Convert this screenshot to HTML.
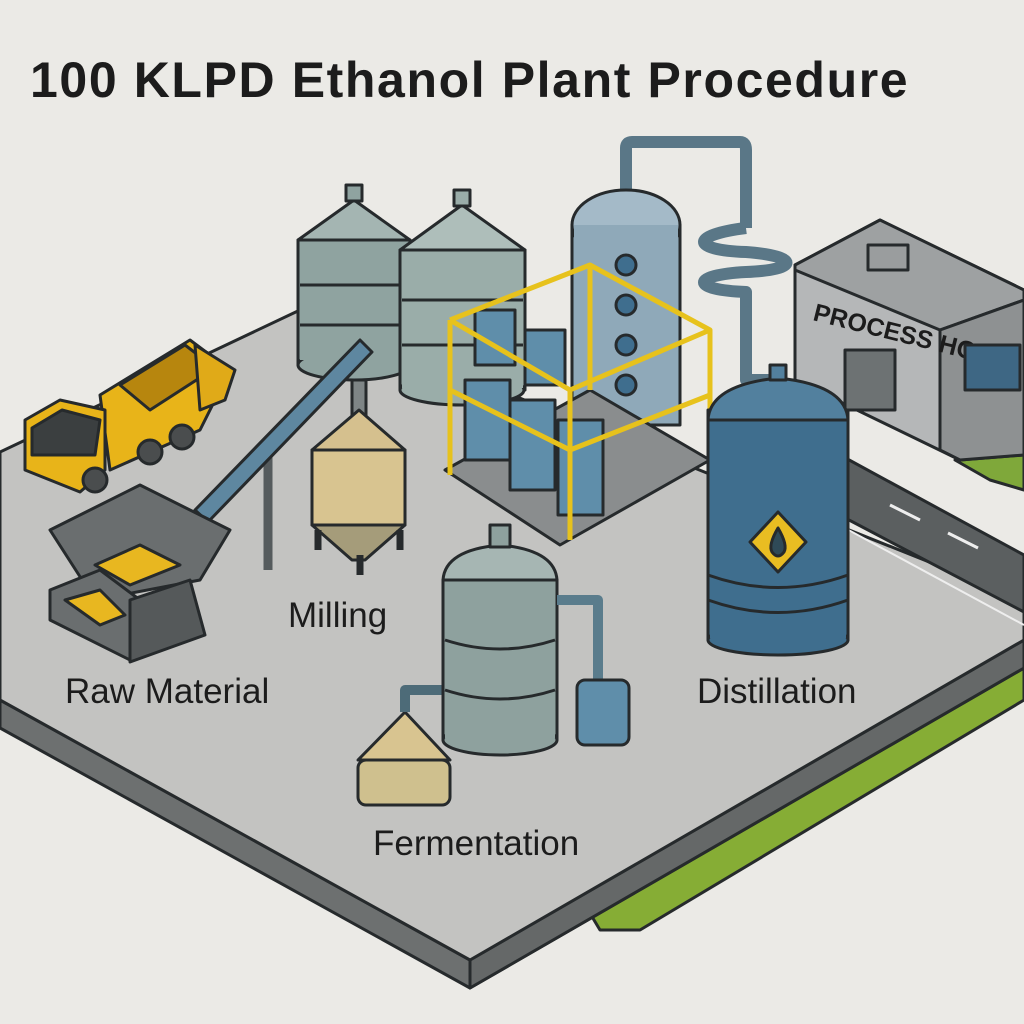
<!DOCTYPE html>
<html><head><meta charset="utf-8"><style>
html,body{margin:0;padding:0;background:#ebeae6}
svg{display:block}
text{font-family:"Liberation Sans","DejaVu Sans",sans-serif;fill:#1c1c1c}
</style></head><body>
<svg width="1024" height="1024" viewBox="0 0 1024 1024" xmlns="http://www.w3.org/2000/svg" stroke="#262a2c" stroke-width="3" stroke-linejoin="round">
<rect x="0" y="0" width="1024" height="1024" fill="#ebeae6" stroke="none"/>
<text x="30" y="97" font-size="50" font-weight="bold" stroke="none" style="letter-spacing:1.6px">100 KLPD Ethanol Plant Procedure</text>

<!-- green grass -->
<polygon points="585,905 1024,640 1024,700 640,930 600,930" fill="#86ad35"/>
<polygon points="955,460 1024,420 1024,490 990,480" fill="#7fa83a"/>
<!-- slab sides -->
<polygon points="0,700 470,960 1024,640 1024,668 470,988 0,728" fill="#6d7070"/>
<polygon points="470,960 1024,640 1024,668 470,988" fill="#656868"/>
<!-- slab top -->
<polygon points="0,452 300,310 1024,600 1024,640 470,960 0,700" fill="#c3c3c1"/>
<!-- road -->
<polygon points="840,455 1024,555 1024,612 830,510" fill="#5b5f60"/>
<line x1="890" y1="505" x2="920" y2="520" stroke="#eee" stroke-width="3"/>
<line x1="948" y1="533" x2="978" y2="548" stroke="#eee" stroke-width="3"/>
<polyline points="830,520 1024,625" fill="none" stroke="#eee" stroke-width="2"/>

<!-- building -->
<polygon points="795,265 880,220 1024,290 1024,455 960,460 795,380" fill="#b5b7b8"/>
<polygon points="795,265 880,220 1024,290 1024,300 940,330 795,270" fill="#9ea1a2"/>
<polygon points="940,330 1024,300 1024,455 960,460 940,450" fill="#8e9192"/>
<rect x="868" y="245" width="40" height="25" fill="#9a9d9e"/>
<text x="812" y="320" font-size="25" font-weight="bold" stroke="none" transform="rotate(14 812 320)">PROCESS HOU</text>
<rect x="845" y="350" width="50" height="60" fill="#6d7273"/>
<rect x="965" y="345" width="55" height="45" fill="#3e6784"/>

<!-- silos -->
<rect x="298" y="240" width="112" height="125" fill="#8fa3a0"/>
<ellipse cx="354" cy="365" rx="56" ry="15" fill="#8fa3a0"/>
<rect x="300" y="250" width="108" height="110" fill="#8fa3a0" stroke="none"/>
<polygon points="298,240 354,200 410,240" fill="#a4b5b2"/>
<rect x="346" y="185" width="16" height="16" fill="#8fa3a0"/>
<line x1="300" y1="285" x2="408" y2="285"/><line x1="300" y1="325" x2="408" y2="325"/>

<rect x="400" y="250" width="125" height="140" fill="#9aada9"/>
<ellipse cx="462" cy="390" rx="62" ry="15" fill="#9aada9"/>
<rect x="402" y="258" width="121" height="130" fill="#9aada9" stroke="none"/>
<polygon points="400,250 462,205 525,250" fill="#aebeba"/>
<rect x="454" y="190" width="16" height="16" fill="#9aada9"/>
<line x1="402" y1="300" x2="523" y2="300"/><line x1="402" y1="345" x2="523" y2="345"/>

<!-- pipe to condenser -->
<path d="M626 190 V148 Q626 142 632 142 H740 Q746 142 746 150 V228" fill="none" stroke="#5a7787" stroke-width="12"/>
<path d="M746 228 C690 235,690 250,746 252 C800 256,800 270,746 272 C690 275,690 290,746 292 V380 H772" fill="none" stroke="#5a7787" stroke-width="12"/>

<!-- column -->
<rect x="572" y="225" width="108" height="200" fill="#8fa9b9"/>
<ellipse cx="626" cy="225" rx="54" ry="35" fill="#a4bac8"/>
<rect x="574" y="225" width="104" height="198" fill="#8fa9b9" stroke="none"/>
<circle cx="626" cy="265" r="10" fill="#3f6e8e"/>
<circle cx="626" cy="305" r="10" fill="#3f6e8e"/>
<circle cx="626" cy="345" r="10" fill="#3f6e8e"/>
<circle cx="626" cy="385" r="10" fill="#3f6e8e"/>

<!-- frame base -->
<polygon points="445,470 590,390 710,460 560,545" fill="#8a8d8e"/>
<!-- small tanks -->
<g fill="#5f8eaa">
<rect x="465" y="380" width="45" height="80"/><rect x="510" y="400" width="45" height="90"/><rect x="558" y="420" width="45" height="95"/>
<rect x="475" y="310" width="40" height="55"/><rect x="525" y="330" width="40" height="55"/>
</g>
<!-- yellow frame -->
<g fill="none" stroke="#e7c21c" stroke-width="5">
<polyline points="450,320 590,265 710,330 570,390 450,320"/>
<line x1="450" y1="320" x2="450" y2="475"/><line x1="570" y1="390" x2="570" y2="540"/><line x1="710" y1="330" x2="710" y2="465"/><line x1="590" y1="265" x2="590" y2="390"/>
<polyline points="450,390 570,450 710,395"/>
</g>

<!-- big blue tank -->
<rect x="708" y="410" width="140" height="230" fill="#3f6e8e"/>
<ellipse cx="778" cy="640" rx="70" ry="15" fill="#3f6e8e"/>
<rect x="710" y="420" width="136" height="218" fill="#3f6e8e" stroke="none"/>
<path d="M708 420 Q710 385 778 378 Q846 385 848 420 Z" fill="#52809e"/>
<rect x="770" y="365" width="16" height="15" fill="#52809e"/>
<path d="M708 575 Q778 600 848 575 M708 600 Q778 625 848 600" fill="none"/>
<polygon points="778,512 806,542 778,572 750,542" fill="#e9bd22"/>
<path d="M778 528 Q768 545 772 552 Q778 560 784 552 Q788 545 778 528Z" fill="#2f4a57"/>

<!-- truck -->
<polygon points="60,350 130,340 160,410 60,420" fill="none" stroke="none"/>
<polygon points="100,395 190,340 230,370 200,430 110,470" fill="#e8b419"/>
<polygon points="120,385 185,345 215,368 150,410" fill="#b7860e"/>
<polygon points="195,345 235,370 225,400 200,410" fill="#e0aa18"/>
<polygon points="25,420 60,400 105,410 105,470 80,492 25,470" fill="#e8b419"/>
<polygon points="32,428 62,410 100,420 95,455 32,455" fill="#3b3f40"/>
<circle cx="95" cy="480" r="12" fill="#4a4d4e"/><circle cx="150" cy="452" r="12" fill="#4a4d4e"/><circle cx="182" cy="437" r="12" fill="#4a4d4e"/>

<!-- conveyor -->
<line x1="268" y1="440" x2="268" y2="570" stroke="#555b5d" stroke-width="9"/>
<polygon points="195,510 360,340 372,352 208,522" fill="#5e87a0"/>

<!-- milling silo -->
<rect x="352" y="380" width="14" height="40" fill="#7e8586"/>
<polygon points="312,450 359,410 405,450" fill="#d5c08e"/>
<rect x="312" y="450" width="93" height="75" fill="#d8c490"/>
<polygon points="312,525 405,525 365,560 352,560" fill="#a59c7a"/>
<line x1="318" y1="530" x2="318" y2="550" stroke-width="7"/><line x1="400" y1="530" x2="400" y2="550" stroke-width="7"/><line x1="360" y1="555" x2="360" y2="575" stroke-width="7"/>

<!-- hopper -->
<polygon points="50,530 140,485 230,530 200,580 95,600" fill="#6a6e6f"/>
<polygon points="95,565 140,545 180,565 130,585" fill="#e8b720"/>
<polygon points="50,590 100,570 140,600 130,660 50,620" fill="#6a6e6f"/>
<polygon points="65,600 100,590 125,615 100,625" fill="#e8b720"/>
<polygon points="130,600 190,580 205,635 130,662" fill="#55595a"/>

<!-- fermentation -->
<polygon points="358,760 405,712 450,760" fill="#d8c490"/>
<rect x="358" y="760" width="92" height="45" rx="8" fill="#cfc08e"/>
<path d="M405 712 V690 H448" fill="none" stroke="#4d6b78" stroke-width="10"/>
<rect x="443" y="580" width="114" height="160" fill="#8ea19e"/>
<ellipse cx="500" cy="740" rx="57" ry="15" fill="#8ea19e"/>
<rect x="445" y="590" width="110" height="148" fill="#8ea19e" stroke="none"/>
<path d="M443 580 Q445 550 500 545 Q555 550 557 580Z" fill="#a6b6b3"/>
<rect x="490" y="525" width="20" height="22" fill="#8ea19e"/>
<path d="M445 640 Q500 658 555 640 M445 690 Q500 708 555 690" fill="none"/>
<path d="M557 600 H598 V685" fill="none" stroke="#5a7c8c" stroke-width="10"/>
<rect x="577" y="680" width="52" height="65" rx="8" fill="#5f8eaa"/>

<!-- labels -->
<g stroke="none" font-size="35">
<text x="288" y="627">Milling</text>
<text x="65" y="703">Raw Material</text>
<text x="697" y="703">Distillation</text>
<text x="373" y="855">Fermentation</text>
</g>
</svg>
</body></html>
